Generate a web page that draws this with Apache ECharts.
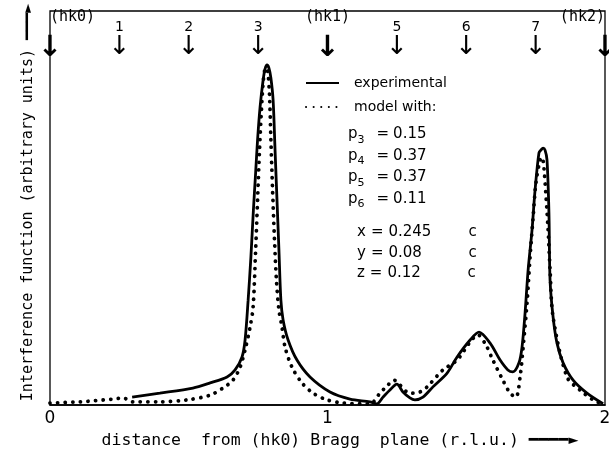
<!DOCTYPE html>
<html>
<head>
<meta charset="utf-8">
<script src="https://cdn.jsdelivr.net/npm/echarts@6/dist/echarts.min.js"></script>
<style>
  html, body { margin: 0; padding: 0; background: #fff; }
  #chart { width: 609px; height: 455px; }
</style>
</head>
<body>
<div id="chart"></div>
<script>
// experimental curve (solid), x in r.l.u., y arbitrary units
const expX = [0.296, 0.396, 0.515, 0.577, 0.638, 0.667, 0.692, 0.703, 0.714, 0.724, 0.733, 0.741, 0.748, 0.757, 0.768, 0.775, 0.782, 0.789, 0.796, 0.804, 0.811, 0.818, 0.825, 0.832, 0.840, 0.858, 0.890, 0.937, 1.009, 1.081, 1.153, 1.178, 1.200, 1.225, 1.250, 1.272, 1.297, 1.315, 1.344, 1.380, 1.431, 1.467, 1.514, 1.546, 1.586, 1.622, 1.650, 1.668, 1.690, 1.701, 1.712, 1.723, 1.737, 1.748, 1.762, 1.769, 1.777, 1.784, 1.791, 1.798, 1.802, 1.813, 1.827, 1.849, 1.885, 1.935, 1.993];
const expY = [2.0, 3.0, 4.3, 5.6, 7.1, 8.9, 12.2, 16.5, 26.6, 37.6, 49.5, 58.9, 67.3, 75.6, 82.5, 85.3, 86.3, 85.5, 83.0, 77.4, 64.7, 52.0, 39.3, 26.6, 21.6, 16.5, 11.4, 7.1, 3.3, 1.5, 0.8, 0.3, 2.0, 3.8, 5.3, 3.3, 1.8, 1.3, 2.0, 4.6, 8.1, 12.2, 16.5, 18.5, 15.7, 11.4, 8.9, 8.4, 10.7, 14.7, 23.4, 34.3, 44.4, 54.6, 64.0, 64.7, 65.2, 64.7, 62.2, 48.7, 31.7, 22.3, 15.7, 10.7, 6.3, 3.0, 0.3];

// model curve (dotted)
const modelX = [0.000, 0.108, 0.227, 0.263, 0.299, 0.396, 0.494, 0.577, 0.623, 0.659, 0.685, 0.703, 0.721, 0.732, 0.741, 0.748, 0.755, 0.762, 0.769, 0.777, 0.784, 0.791, 0.796, 0.802, 0.809, 0.816, 0.825, 0.836, 0.847, 0.872, 0.908, 0.948, 0.998, 1.056, 1.153, 1.189, 1.214, 1.240, 1.261, 1.286, 1.305, 1.333, 1.359, 1.416, 1.467, 1.514, 1.542, 1.571, 1.596, 1.632, 1.658, 1.679, 1.694, 1.705, 1.719, 1.730, 1.741, 1.751, 1.766, 1.773, 1.780, 1.795, 1.802, 1.813, 1.863, 1.910, 1.957, 1.989];
const modelY = [0.5, 0.8, 1.5, 1.8, 0.8, 0.8, 1.3, 2.5, 4.3, 6.3, 9.6, 14.0, 19.8, 24.9, 39.3, 52.0, 64.7, 74.9, 82.5, 85.5, 85.0, 78.7, 67.3, 54.6, 41.9, 31.7, 24.1, 19.8, 14.7, 9.6, 5.6, 3.0, 1.3, 0.5, 0.3, 3.0, 4.8, 6.3, 5.1, 3.3, 3.0, 3.3, 4.6, 8.9, 11.4, 16.0, 17.8, 15.2, 11.4, 6.3, 3.0, 2.0, 7.1, 14.7, 25.9, 37.6, 47.7, 56.3, 62.2, 62.9, 60.2, 44.4, 34.3, 22.3, 7.1, 3.8, 1.3, 0.3];

// labels along the top, one per quarter r.l.u.
const topLabels = ['(hk0)', '1', '2', '3', '(hk1)', '5', '6', '7', '(hk2)'];
const seriesNames = ['experimental', 'model with:'];
const pParams = [['3', '0.15'], ['4', '0.37'], ['5', '0.37'], ['6', '0.11']];
const xyzParams = [['x', '0.245'], ['y', '0.08'], ['z', '0.12']];

const SANS = 'DejaVu Sans';
const MONO = 'DejaVu Sans Mono';
const zip = (xs, ys) => xs.map((x, i) => [x, ys[i]]);
const topIndex = (v) => Math.round(v * 4);

const chart = echarts.init(document.getElementById('chart'));

const options = {
  backgroundColor: '#fff',
  animation: false,
  grid: {
    left: 50, right: 4, top: 11, bottom: 50,
    outerBoundsMode: 'none',
    show: true, borderColor: '#000', borderWidth: 1.3
  },
  legend: {
    data: seriesNames,
    orient: 'vertical',
    left: 300, top: 71,
    itemWidth: 33, itemHeight: 14, itemGap: 10,
    itemStyle: { opacity: 0 },
    textStyle: { fontFamily: SANS, fontSize: 14, color: '#000', padding: [0, 0, 0, 10] }
  },
  xAxis: [
    {
      type: 'value', min: 0, max: 2, interval: 1,
      axisLine: { show: true, lineStyle: { color: '#000', width: 1.5 } },
      axisTick: { show: false },
      splitLine: { show: false },
      axisLabel: { color: '#000', fontFamily: SANS, fontSize: 17, margin: 5 },
      name: 'distance  from (hk0) Bragg  plane (r.l.u.) ━━━━►',
      nameLocation: 'middle',
      nameGap: 27,
      nameTextStyle: { color: '#000', fontFamily: MONO, fontSize: 16.5, padding: [0, 0, 0, 25] }
    },
    {
      // top labels
      type: 'value', min: 0, max: 2, interval: 0.25, position: 'top',
      axisLine: { show: false }, axisTick: { show: false }, splitLine: { show: false },
      axisLabel: {
        inside: true, margin: -2, showMinLabel: true, showMaxLabel: true,
        alignMinLabel: 'left', alignMaxLabel: 'right', hideOverlap: false,
        formatter: (v) => {
          const t = topLabels[topIndex(v)];
          return t.charAt(0) === '(' ? '{h|' + t + '}' : '{n|' + t + '}';
        },
        rich: {
          h: { fontFamily: MONO, fontSize: 15, lineHeight: 16, color: '#000' },
          n: { fontFamily: SANS, fontSize: 14, lineHeight: 16, color: '#000', padding: [20, 0, 0, 0] }
        }
      }
    },
    {
      // arrows marking the Bragg positions
      type: 'value', min: 0, max: 2, interval: 0.25, position: 'top',
      axisLine: { show: false }, axisTick: { show: false }, splitLine: { show: false },
      axisLabel: {
        inside: true, margin: 23, showMinLabel: true, showMaxLabel: true, hideOverlap: false,
        formatter: (v) => topLabels[topIndex(v)].charAt(0) === '(' ? '{b|↓}' : '{a|↓}',
        rich: {
          a: { fontFamily: SANS, fontSize: 26, lineHeight: 26, color: '#000' },
          b: { fontFamily: SANS, fontSize: 29, lineHeight: 29, fontWeight: 'bold', color: '#000' }
        }
      }
    }
  ],
  yAxis: {
    type: 'value', min: 0, max: 100,
    axisLine: { show: false }, axisTick: { show: false },
    axisLabel: { show: false }, splitLine: { show: false },
    name: 'Interference function (arbitrary units) ━━━►',
    nameLocation: 'middle',
    nameGap: 14,
    nameRotate: 90,
    nameTextStyle: { color: '#000', fontFamily: MONO, fontSize: 15, padding: [0, 0, 0, 11] }
  },
  graphic: [
    {
      type: 'text', left: 348, top: 127,
      style: {
        text: pParams.map(([s, v]) => '{p|p}{s|' + s + '}{q|=}{v|' + v + '}').join('\n'),
        rich: {
          p: { fontFamily: SANS, fontSize: 15, lineHeight: 21.5, fill: '#000' },
          s: { fontFamily: SANS, fontSize: 11, lineHeight: 11, verticalAlign: 'bottom', fill: '#000' },
          q: { fontFamily: SANS, fontSize: 15, lineHeight: 21.5, padding: [0, 4, 0, 12], fill: '#000' },
          v: { fontFamily: SANS, fontSize: 15, lineHeight: 21.5, fill: '#000' }
        }
      }
    },
    {
      type: 'text', left: 357, top: 225,
      style: {
        text: xyzParams.map(([k, v]) => '{k|' + k + '}{q|=}{v|' + v + '}{c|c}').join('\n'),
        rich: {
          k: { fontFamily: SANS, fontSize: 15, lineHeight: 20.5, fill: '#000' },
          q: { fontFamily: SANS, fontSize: 15, lineHeight: 20.5, padding: [0, 5, 0, 5], fill: '#000' },
          v: { fontFamily: SANS, fontSize: 15, lineHeight: 20.5, width: 80, fill: '#000' },
          c: { fontFamily: SANS, fontSize: 15, lineHeight: 20.5, fill: '#000' }
        }
      }
    }
  ],
  series: [
    {
      name: seriesNames[0],
      type: 'line',
      data: zip(expX, expY),
      smooth: 0.3,
      symbol: 'none',
      lineStyle: { color: '#000', width: 2.8 },
      itemStyle: { color: '#000' }
    },
    {
      name: seriesNames[1],
      type: 'line',
      data: zip(modelX, modelY),
      smooth: 0.3,
      symbol: 'none',
      lineStyle: { color: '#000', width: 3.8, type: [0.1, 7.5], cap: 'round' },
      itemStyle: { color: '#000' }
    }
  ]
};

chart.setOption(options);
</script>
</body>
</html>
